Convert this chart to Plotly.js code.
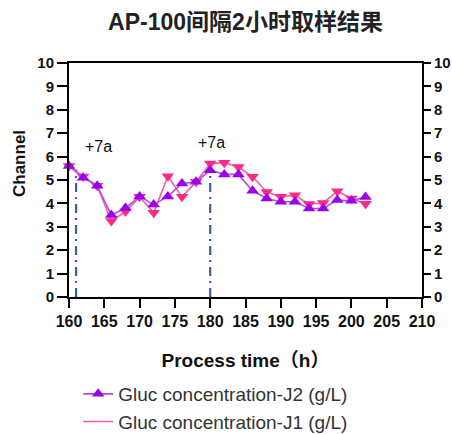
<!DOCTYPE html>
<html>
<head>
<meta charset="utf-8">
<script src="https://cdn.plot.ly/plotly-3.0.1.min.js"></script>
<style>html,body{margin:0;padding:0;background:#fff;}#chart{width:452px;height:434px;}</style>
</head>
<body>
<div id="chart"></div>
<script>
var timeH = [160,162,164,166,168,170,172,174,176,178,180,182,184,186,188,190,192,194,196,198,200,202];
var glucJ2 = [5.6,5.1,4.75,3.5,3.8,4.3,3.95,4.3,4.85,4.92,5.42,5.24,5.24,4.54,4.21,4.07,4.07,3.78,3.78,4.14,4.11,4.27];
var glucJ1 = [5.6,5.15,4.75,3.25,3.65,4.28,3.6,5.16,4.28,4.92,5.7,5.74,5.56,5.14,4.49,4.28,4.35,3.97,4.02,4.52,4.21,3.98];
var markTimes = [161, 180];
var markTops = [5.45, 5.35];
var markLabels = ["+7a", "+7a"];
var markLabelX = [164.2, 180.2];
var markLabelY = [6.42, 6.6];
var yTicks = [0,1,2,3,4,5,6,7,8,9,10];
var xTicks = [160,165,170,175,180,185,190,195,200,205,210];

var traces = [];
markTimes.forEach(function(t, i){
  traces.push({x:[t,t], y:[0, markTops[i]], mode:'lines', showlegend:false, hoverinfo:'skip',
    line:{color:'#3a5f9c', width:2.2, dash:'9px,5px,2px,5px'}});
});
traces.push({x:timeH, y:glucJ1, mode:'lines', name:'Gluc concentration-J1 (g/L)', legendrank:2,
  line:{color:'#f25cb4', width:1.6}});
traces.push({x:timeH, y:glucJ1, mode:'markers', showlegend:false, cliponaxis:false,
  marker:{symbol:'triangle-down', size:11, color:'#ff2a84'}});
traces.push({x:timeH, y:glucJ2, mode:'lines+markers', name:'Gluc concentration-J2 (g/L)', legendrank:1, cliponaxis:false,
  line:{color:'#b44ee0', width:1.6},
  marker:{symbol:'triangle-up', size:11, color:'#9a00f0'}});
traces.push({x:[], y:[], yaxis:'y2', showlegend:false, hoverinfo:'skip'});

var annotations = markLabels.map(function(s, i){
  return {x:markLabelX[i], y:markLabelY[i], xref:'x', yref:'y', text:s, showarrow:false,
    font:{family:'Liberation Sans, Arial, sans-serif', size:16, color:'#111'}};
});
annotations.push({text:'<b>Channel</b>', textangle:-90, showarrow:false, xref:'paper', yref:'paper',
  x:(19-69)/353, y:(297-164)/234, xanchor:'center', yanchor:'middle',
  font:{family:'Liberation Sans, Arial, sans-serif', size:17, color:'#111'}});

var tickFont = {family:'Liberation Sans, Arial, sans-serif', size:15, color:'#111', weight:'bold'};
var layout = {
  width:452, height:434,
  margin:{l:69, r:30, t:63, b:137, autoexpand:false},
  paper_bgcolor:'#fff', plot_bgcolor:'#fff',
  title:{text:'<b>AP-100间隔2小时取样结果</b>', x:0.5, xref:'paper', y:1-22/434, yref:'container', yanchor:'middle',
    font:{family:'Liberation Sans, Noto Sans CJK SC, sans-serif', size:23, color:'#222'}},
  xaxis:{range:[160,210], tickvals:xTicks, ticktext:xTicks.map(String), showgrid:false, zeroline:false,
    showline:true, linecolor:'#000', linewidth:2, mirror:true, ticks:'outside', ticklen:9, tickwidth:2, tickcolor:'#000',
    tickfont:{family:'Liberation Sans, Arial, sans-serif', size:16, color:'#111', weight:'bold'},
    title:{text:'<b>Process time（h）</b>', standoff:24, font:{family:'Liberation Sans, Noto Sans CJK SC, sans-serif', size:19, color:'#111'}}},
  yaxis:{range:[0,10], tickvals:yTicks, ticktext:yTicks.map(String), showgrid:false, zeroline:false,
    showline:true, linecolor:'#000', linewidth:2, ticks:'outside', ticklen:10, tickwidth:2, tickcolor:'#000',
    tickfont:tickFont},
  yaxis2:{range:[0,10], overlaying:'y', side:'right', tickvals:yTicks, ticktext:yTicks.map(String), showgrid:false, zeroline:false,
    showline:true, linecolor:'#000', linewidth:2, ticks:'outside', ticklen:7, tickwidth:2, tickcolor:'#000', tickfont:tickFont},
  showlegend:true,
  legend:{x:0.026, xanchor:'left', y:1-375/434, yref:'container', yanchor:'top', bgcolor:'rgba(0,0,0,0)',
    font:{family:'Liberation Sans, Arial, sans-serif', size:19, color:'#333'}},
  annotations:annotations
};
Plotly.newPlot('chart', traces, layout, {displayModeBar:false, staticPlot:true});
</script>
</body>
</html>
